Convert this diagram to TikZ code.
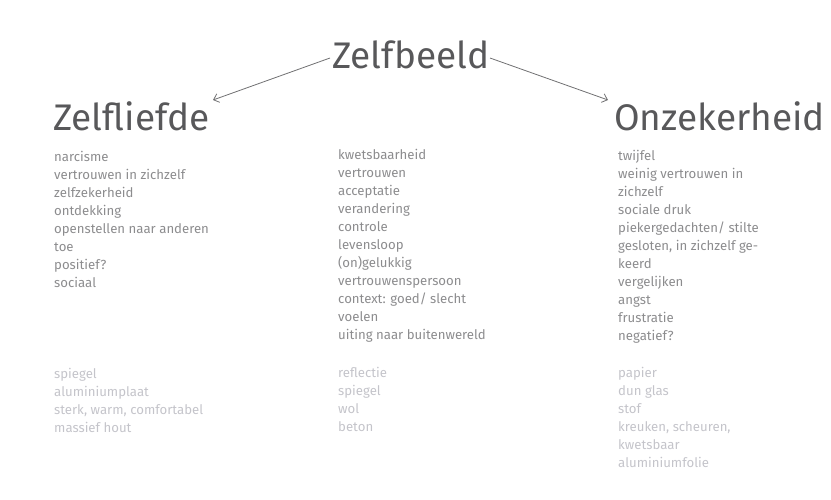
\documentclass[tikz,border=0pt]{standalone}
\usepackage{fontspec}
\setmainfont{Fira Sans}
\definecolor{headc}{HTML}{58585A}
\definecolor{bodyc}{HTML}{8C8C8E}
\definecolor{lightc}{HTML}{C4C4CA}
\definecolor{arrowc}{HTML}{707072}
\usetikzlibrary{arrows.meta}
\begin{document}
\begin{tikzpicture}[x=1pt,y=-1pt,
  head/.style={anchor=base west,inner sep=0pt,text=headc,font=\fontsize{37}{37}\selectfont},
  col/.style={anchor=north west,inner sep=0pt,align=left,font=\fontsize{13.2}{18}\selectfont},
  conn/.style={draw=arrowc,line width=0.8pt,-{Straight Barb[length=5pt,width=9pt]}}]
\useasboundingbox (0,0) rectangle (831,500);
\node[head] (zb) at (332,69) {Zelfbeeld};
\node[head] (zl) at (53,131) {Zelfliefde};
\node[head] (oz) at (614,131) {Onzekerheid};
\coordinate (zbl) at (330,58);
\coordinate (zbr) at (490,58);
\coordinate (zlt) at (213,100);
\coordinate (ozt) at (608,100);
\draw[conn] (zbl) -- (zlt);
\draw[conn] (zbr) -- (ozt);
\node[col,text=bodyc] (l1) at (54,161-12.6) {\strut narcisme\\vertrouwen in zichzelf\\zelfzekerheid\\ontdekking\\openstellen naar anderen\\toe\\positief?\\sociaal};
\node[col,text=bodyc] (m1) at (338,159-12.6) {\strut kwetsbaarheid\\vertrouwen\\acceptatie\\verandering\\controle\\levensloop\\(on)gelukkig\\vertrouwenspersoon\\context: goed/ slecht\\voelen\\uiting naar buitenwereld};
\node[col,text=bodyc] (r1) at (618,160-12.6) {\strut twijfel\\weinig vertrouwen in\\zichzelf\\sociale druk\\piekergedachten/ stilte\\gesloten, in zichzelf ge-\\keerd\\vergelijken\\angst\\frustratie\\negatief?};
\node[col,text=lightc] (l2) at (54,378-12.6) {\strut spiegel\\aluminiumplaat\\sterk, warm, comfortabel\\massief hout};
\node[col,text=lightc] (m2) at (338,377-12.6) {\strut reflectie\\spiegel\\wol\\beton};
\node[col,text=lightc] (r2) at (618,377-12.6) {\strut papier\\dun glas\\stof\\kreuken, scheuren,\\kwetsbaar\\aluminiumfolie};
\end{tikzpicture}
\end{document}
